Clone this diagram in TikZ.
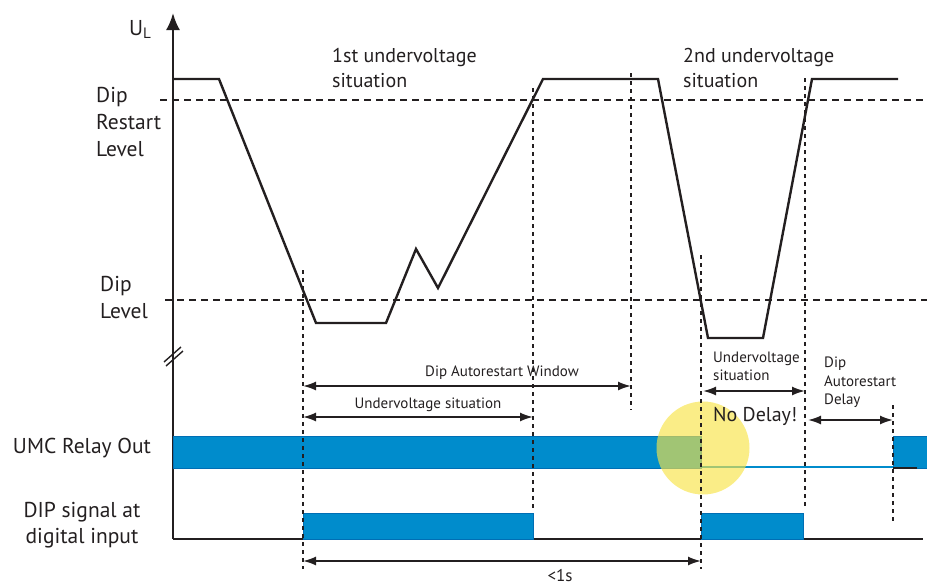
\documentclass[tikz,border=0pt]{standalone}
\usepackage{fontspec}
\setmainfont{PT Sans}
\usetikzlibrary{arrows.meta,positioning}
\definecolor{relayblue}{RGB}{0,140,204}
\definecolor{relayedge}{RGB}{0,110,180}
\definecolor{spot}{RGB}{248,228,70}
\definecolor{txt}{RGB}{35,31,32}

\begin{document}
\begin{tikzpicture}[x=1pt,y=-1pt]
	\tikzset{curve/.style={line width=2.4pt, txt},
		level/.style={line width=2pt, txt, dash pattern=on 7pt off 5pt},
		epoch/.style={line width=2.2pt, txt, dash pattern=on 4pt off 4pt},
		span/.style={line width=1.8pt, txt, {Latex[length=13pt,width=9pt]}-{Latex[length=13pt,width=9pt]}},
		bar/.style={fill=relayblue, draw=relayedge, line width=0.8pt},
		biglbl/.style={font=\fontsize{21.5}{27}\selectfont, text=txt, inner sep=0pt},
		midlbl/.style={font=\fontsize{20}{25}\selectfont, text=txt, inner sep=0pt, align=left},
		smalllbl/.style={font=\fontsize{15}{18}\selectfont, text=txt, inner sep=0pt}}
	\useasboundingbox (0,0) rectangle (927,584);

	% axis
	\coordinate (origin) at (173,539);
	\coordinate (ytip) at (173,13);
	\coordinate (xend) at (923,539);
	\draw[line width=2.4pt, txt, -{Latex[length=17pt,width=14pt]}] (origin) -- (ytip);
	\draw[line width=1.8pt, txt] (origin) -- (xend);
	\draw[line width=1.4pt, txt] (164,362) -- (181,347);
	\draw[line width=1.4pt, txt] (166,366) -- (183,351);

	% levels
	\draw[level] (160,100) -- (927,100);
	\draw[level] (165,300) -- (927,300);

	% relay output and dip signal
	\draw[bar] (173,436) rectangle (701,468);
	\draw[relayblue, line width=2.4pt] (701,467) -- (893,467);
	\draw[bar] (893,436) rectangle (927,468);
	\draw[txt, line width=1.2pt] (893,468) -- (917,468);
	\draw[bar] (303,513) rectangle (533,539);
	\draw[bar] (701,513) rectangle (803,539);
	\fill[spot, opacity=0.65] (703,448) circle (46.5);

	% voltage
	\draw[curve] (173,79) -- (219,79) -- (316,323) -- (386,323) -- (416,249) -- (438,288) -- (543,79)
		-- (658,79) -- (708,338) -- (763,338) -- (812,79) -- (898,79);

	% epochs
	\foreach \n/\x/\t/\b in {a/303/270/569, b/533/88/510, c/631/73/410, d/701/255/569, e/805/78/508, f/893/405/522}{
		\coordinate (\n top) at (\x,\t);
		\coordinate (\n bot) at (\x,\b);
		\draw[epoch] (\n top) -- (\n bot);
	}

	% spans
	\coordinate (winL) at (303,386);
	\coordinate (winR) at (631,386);
	\coordinate (uv1L) at (303,417);
	\coordinate (uv1R) at (533,417);
	\coordinate (uv2L) at (703,391);
	\coordinate (uv2R) at (805,391);
	\coordinate (delL) at (808,420);
	\coordinate (delR) at (893,420);
	\coordinate (oneL) at (303,561);
	\coordinate (oneR) at (701,561);
	\draw[span] (winL) -- (winR);
	\draw[span] (uv1L) -- (uv1R);
	\draw[span] (uv2L) -- (uv2R);
	\draw[span] (delL) -- (delR);
	\draw[span] (oneL) -- (oneR);

	% labels
	\node[biglbl, anchor=base west] (ul) at (129,35) {U\textsubscript{L}};
	\node[biglbl, anchor=north west, align=left] (restart) at (96,87) {Dip\\Restart\\Level};
	\node[biglbl, anchor=north west, align=left] (diplvl) at (100,276) {Dip\\Level};
	\node[biglbl, anchor=base] (relay) at (82,453) {UMC Relay Out};
	\node[biglbl, anchor=north, align=center, font=\fontsize{21.5}{26}\selectfont] (dipsig) at (82,502) {DIP signal at\\digital input};
	\node[midlbl, anchor=north west] (first) at (332,48) {1st undervoltage\\situation};
	\node[midlbl, anchor=north west] (second) at (683,48) {2nd undervoltage\\situation};
	\node[smalllbl, anchor=base] (win) at (502,376) {Dip Autorestart Window};
	\node[smalllbl, anchor=base] (uv1) at (428,408) {Undervoltage situation};
	\node[smalllbl, anchor=north west, align=left] (uv2) at (713,352) {Undervoltage\\situation};
	\node[smalllbl, anchor=north west, align=left, font=\fontsize{15}{18.5}\selectfont] (delay) at (824,357) {Dip\\Autorestart\\Delay};
	\node[biglbl, anchor=base west, font=\fontsize{20}{24}\selectfont] (nodelay) at (713,421) {No Delay!};
	\node[smalllbl, anchor=base, font=\fontsize{17}{20}\selectfont] (lt1s) at (560,581) {<1s};
\end{tikzpicture}
\end{document}
